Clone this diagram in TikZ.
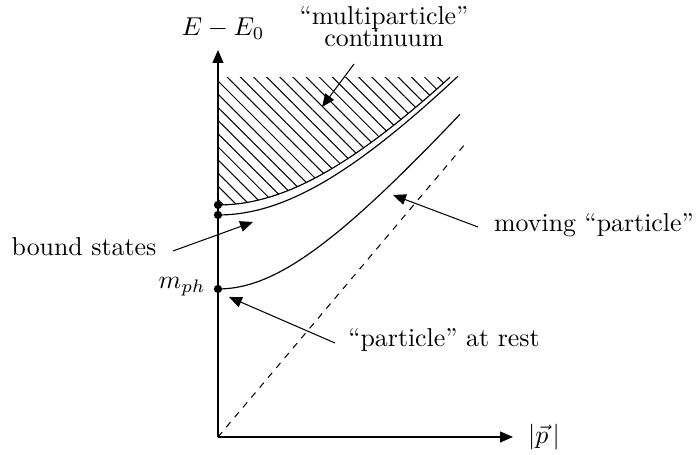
\documentclass[tikz,border=0pt]{standalone}
\usetikzlibrary{arrows.meta,patterns.meta}
\begin{document}
\begin{tikzpicture}[x=0.387pt,y=0.387pt,
  axis/.style={line width=0.55pt,-{Triangle[length=5pt,width=4.2pt]}},
  pointer/.style={line width=0.4pt,-{Triangle[length=5pt,width=4.2pt]}},
  dot/.style={circle,fill,inner sep=0pt,minimum size=3.2pt},
  curve/.style={line width=0.45pt},
  lbl/.style={inner sep=0pt}]
\useasboundingbox (-218,-18) rectangle (479,437);
% hatched continuum
\fill[pattern={Lines[angle=-45,distance=3.6pt,line width=0.4pt]}]
  (0,232) -- plot[domain=0:2.32,samples=60] ({100*\x},{100*sqrt(2.32*2.32+(1.185*\x)*(1.185*\x))}) -- (0,360) -- cycle;
% axes
\coordinate (O) at (0,0);
\coordinate (Ytip) at (0,387);
\coordinate (Xtip) at (295,0);
\draw[axis] (O) -- (Ytip);
\draw[axis] (O) -- (Xtip);
\draw[line width=1.1pt] (0,232) -- (0,360);
% curves
\draw[curve] plot[domain=0:2.32,samples=60] ({100*\x},{100*sqrt(2.32*2.32+(1.185*\x)*(1.185*\x))});
\draw[curve] plot[domain=0:2.40,samples=60] ({100*\x},{100*sqrt(2.22*2.22+(1.185*\x)*(1.185*\x))});
\draw[curve] plot[domain=0:2.42,samples=60] ({100*\x},{100*sqrt(1.48*1.48+(1.185*\x)*(1.185*\x))});
\coordinate (Dend) at (248,294);
\draw[line width=0.4pt,dash pattern=on 2.5pt off 2.5pt] (O) -- (Dend);
% dots
\node[dot] (d1) at (0,232) {};
\node[dot] (d2) at (0,222) {};
\node[dot] (d3) at (0,148) {};
% labels
\node[lbl] (EE) at (5,408) {$E-E_0$};
\node[lbl] (P) at (326,0) {$|\vec p\,|$};
\node[lbl,align=center] (cont) at (166,410) {``multiparticle''\\[-3.5pt]continuum};
\node[lbl] (bound) at (-134,190) {bound states};
\node[lbl,anchor=east] (mph) at (-12,150) {$m_{ph}$};
\node[lbl] (rest) at (226,97) {``particle'' at rest};
\node[lbl] (moving) at (376,212) {moving ``particle''};
% pointers
\coordinate (c1) at (136,373); \coordinate (c2) at (104,330);
\coordinate (b1) at (-45,186); \coordinate (b2) at (35,215);
\coordinate (r1) at (117,94);  \coordinate (r2) at (11,140);
\coordinate (m1) at (260,210); \coordinate (m2) at (175,242);
\draw[pointer] (c1) -- (c2);
\draw[pointer] (b1) -- (b2);
\draw[pointer] (r1) -- (r2);
\draw[pointer] (m1) -- (m2);
\end{tikzpicture}
\end{document}
